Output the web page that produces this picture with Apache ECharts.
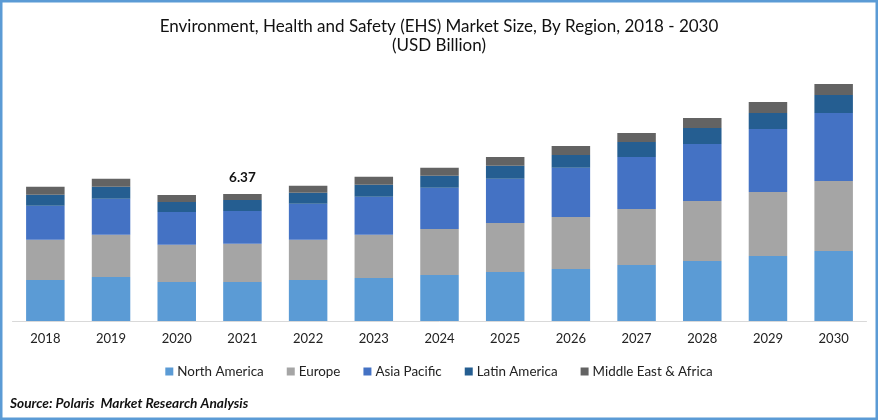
<!DOCTYPE html>
<html>
<head>
<meta charset="utf-8">
<style>
  html, body { margin: 0; padding: 0; background: #fff; }
  #chart { width: 878px; height: 420px; }
</style>
<script src="https://cdn.jsdelivr.net/npm/echarts@6/dist/echarts.min.js"></script>
</head>
<body>
<div id="chart"></div>
<script>
const years = ['2018', '2019', '2020', '2021', '2022', '2023', '2024', '2025', '2026', '2027', '2028', '2029', '2030'];
const northAmerica = [2.06, 2.21, 1.96, 1.96, 2.06, 2.16, 2.31, 2.46, 2.61, 2.81, 3.01, 3.26, 3.51];
const europe = [2.01, 2.11, 1.86, 1.91, 2.01, 2.16, 2.31, 2.46, 2.61, 2.81, 3.01, 3.21, 3.51];
const asiaPacific = [1.71, 1.81, 1.65, 1.65, 1.81, 1.91, 2.06, 2.21, 2.46, 2.61, 2.86, 3.16, 3.41];
const latinAmerica = [0.55, 0.60, 0.50, 0.55, 0.55, 0.60, 0.60, 0.65, 0.65, 0.75, 0.80, 0.80, 0.90];
const middleEastAfrica = [0.40, 0.40, 0.35, 0.30, 0.35, 0.40, 0.40, 0.45, 0.45, 0.45, 0.50, 0.55, 0.55];
const labelledYear = '2021';
const labelledValue = '6.37';

const font = 'Lato, "Noto Sans", sans-serif';
const chart = echarts.init(document.getElementById('chart'));

// only the top segment of 2021 carries the total label
const topData = middleEastAfrica.map((v, i) => years[i] === labelledYear ? {
  value: v,
  label: {
    show: true,
    position: 'top',
    distance: 9,
    formatter: labelledValue,
    fontFamily: font,
    fontWeight: 'bold',
    fontSize: 13.5,
    color: '#111'
  }
} : v);

function stack(name, data, color) {
  return {
    name: name,
    type: 'bar',
    stack: 'total',
    barWidth: 38.5,
    itemStyle: { color: color },
    data: data
  };
}

chart.setOption({
  animation: false,
  backgroundColor: '#fff',
  grid: { left: 12.5, right: 11.5, top: 71.75, bottom: 99 },
  legend: {
    left: 'center',
    top: 360,
    icon: 'rect',
    itemWidth: 8,
    itemHeight: 8,
    itemGap: 23,
    textStyle: { fontFamily: font, fontSize: 13.4, color: '#222', padding: [0, 0, 0, -1] }
  },
  xAxis: {
    type: 'category',
    data: years,
    axisTick: { show: false },
    axisLine: { lineStyle: { color: '#d9d9d9', width: 1 } },
    axisLabel: { fontFamily: font, fontSize: 13, color: '#222', margin: 11 }
  },
  yAxis: { type: 'value', min: 0, max: 12.5, show: false },
  series: [
    stack('North America', northAmerica, '#5B9BD5'),
    stack('Europe', europe, '#A5A5A5'),
    stack('Asia Pacific', asiaPacific, '#4472C4'),
    stack('Latin America', latinAmerica, '#255E91'),
    stack('Middle East & Africa', topData, '#636363')
  ],
  graphic: [
    {
      type: 'rect',
      shape: { x: 1.25, y: 1.25, width: 875.5, height: 417.5 },
      style: { fill: 'none', stroke: '#5B9BD5', lineWidth: 2.5 }
    },
    {
      type: 'text',
      x: 439,
      y: 27,
      style: {
        text: 'Environment, Health and Safety (EHS) Market Size, By Region, 2018 - 2030',
        align: 'center',
        verticalAlign: 'middle',
        fontFamily: font,
        fontSize: 17,
        fill: '#111'
      }
    },
    {
      type: 'text',
      x: 439,
      y: 46,
      style: {
        text: '(USD Billion)',
        align: 'center',
        verticalAlign: 'middle',
        fontFamily: font,
        fontSize: 17,
        fill: '#111'
      }
    },
    {
      type: 'text',
      x: 10,
      y: 404,
      style: {
        text: 'Source: Polaris  Market Research Analysis',
        verticalAlign: 'middle',
        fontFamily: font,
        fontWeight: 'bold',
        fontStyle: 'italic',
        fontSize: 13.7,
        fill: '#111'
      }
    }
  ]
});
</script>
</body>
</html>
